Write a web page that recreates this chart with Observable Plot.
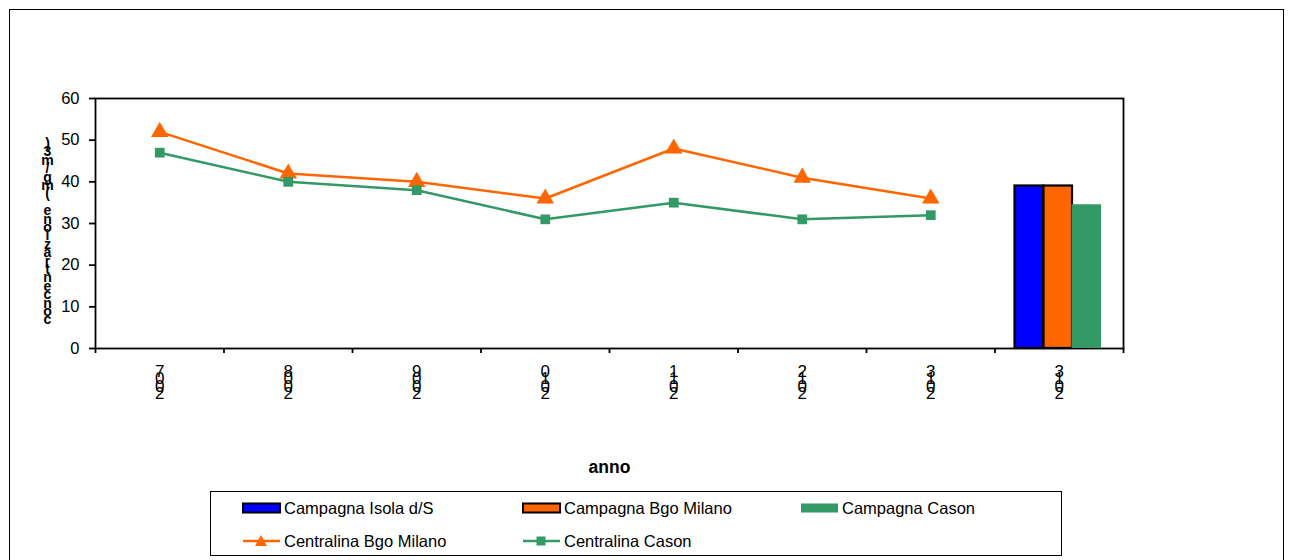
<!DOCTYPE html>
<html>
<head>
<meta charset="utf-8">
<script src="https://cdn.jsdelivr.net/npm/d3@7"></script>
<script src="https://cdn.jsdelivr.net/npm/@observablehq/plot@0.6"></script>
<style>
  html, body { margin: 0; padding: 0; background: #fff; }
  body { width: 1289px; height: 560px; position: relative; overflow: hidden; font-family: "Liberation Sans", Arial, sans-serif; }
  #outer { position: absolute; left: 9px; top: 9px; width: 1275px; height: 620px; border: 1.5px solid #000; box-sizing: border-box; }
  #chart { position: absolute; left: 0; top: 0; }
  #legend { position: absolute; left: 210px; top: 491px; width: 852px; height: 65px; border: 1.5px solid #000; box-sizing: border-box; background: #fff; }
  .item { position: absolute; display: flex; align-items: center; font-size: 16.5px; color: #000; height: 20px; white-space: nowrap; }
  .item svg { margin-right: 2px; }
</style>
</head>
<body>
<div id="outer"></div>
<div id="chart"></div>
<div id="legend"></div>
<script>
// ---- data ----
const years = ["2007", "2008", "2009", "2010", "2011", "2012", "2013", "2013"];
const lineYears = ["2007", "2008", "2009", "2010", "2011", "2012", "2013"];
const centralinaBgoMilano = [52, 42, 40, 36, 48, 41, 36];
const centralinaCason = [47, 40, 38, 31, 35, 31, 32];
const campagnaSeries = ["Campagna Isola d/S", "Campagna Bgo Milano", "Campagna Cason"];
const campagnaValues = [39, 39, 34.5];
const campagnaYear = "2013";
const lineSeries = ["Centralina Bgo Milano", "Centralina Cason"];
const yTicks = [0, 10, 20, 30, 40, 50, 60];
const xTitle = "anno";
const yTitle = "concentrazione (mg/m3)";

// ---- styles ----
const colBlue = "#0000FF", colOrange = "#FF6600", colGreen = "#339966";
const campagnaFill = [colBlue, colOrange, colGreen];
const campagnaStroke = ["#000", "#000", "none"];
const campagnaInsets = [[20, 80], [49, 51], [77, 22]];

const groupIndex = years.length - 1; // campaign group is the last slot
const lineData = lineYears.flatMap((yr, i) => [
  {series: lineSeries[0], year: yr, pos: i + 0.5, value: centralinaBgoMilano[i]},
  {series: lineSeries[1], year: yr, pos: i + 0.5, value: centralinaCason[i]}
]);
const bgo = lineData.filter(d => d.series === lineSeries[0]);
const cas = lineData.filter(d => d.series === lineSeries[1]);

const barMarks = campagnaSeries.map((s, i) => Plot.rectY(
  [{series: s, year: campagnaYear, g0: groupIndex, g1: groupIndex + 1, value: campagnaValues[i]}],
  {x1: "g0", x2: "g1", y1: 0, y2: "value", fill: campagnaFill[i],
   stroke: campagnaStroke[i], strokeWidth: 2.2,
   insetLeft: campagnaInsets[i][0], insetRight: campagnaInsets[i][1]}
));

const tickLabels = years.map((yr, i) => ({pos: i + 0.5, label: yr.split("").reverse().join("\n")}));
const yLabelStacked = yTitle.split("").reverse().join("\n");

const chart = Plot.plot({
  width: 1289,
  height: 480,
  marginLeft: 95,
  marginRight: 166,
  marginTop: 98,
  marginBottom: 132,
  style: {fontFamily: "'Liberation Sans', Arial, sans-serif", background: "transparent", color: "#000"},
  x: {type: "linear", domain: [0, years.length], axis: null},
  y: {domain: [0, 60], axis: null},
  marks: [
    Plot.frame({stroke: "#000", strokeWidth: 1.8}),
    Plot.axisY({ticks: yTicks, tickSize: 6, tickPadding: 10, fontSize: 16.5, stroke: "#000", strokeWidth: 1.8, label: null}),
    Plot.axisX({ticks: d3.range(0, years.length + 1), tickSize: 5, tickFormat: () => "", stroke: "#000", strokeWidth: 1.8, label: null}),
    Plot.text(tickLabels, {x: "pos", text: "label", frameAnchor: "bottom", lineAnchor: "top", dy: 23, fontSize: 17, lineHeight: 0.44, fill: "#000"}),
    Plot.text([xTitle], {frameAnchor: "bottom", lineAnchor: "top", dy: 112, fontSize: 17.5, fontWeight: "bold", fill: "#000"}),
    Plot.text([yLabelStacked], {frameAnchor: "left", dx: -48, dy: 10, fontSize: 14, fontWeight: "bold", lineHeight: 0.6, fill: "#000", textAnchor: "middle"}),
    Plot.line(bgo, {x: "pos", y: "value", stroke: colOrange, strokeWidth: 2.5}),
    Plot.line(cas, {x: "pos", y: "value", stroke: colGreen, strokeWidth: 2.5}),
    Plot.dot(bgo, {x: "pos", y: "value", symbol: "triangle", r: 6.5, fill: colOrange, stroke: "none"}),
    Plot.dot(cas, {x: "pos", y: "value", symbol: "square", r: 5.5, fill: colGreen, stroke: "none"}),
    ...barMarks
  ]
});
document.getElementById("chart").appendChild(chart);

// ---- legend ----
const legend = document.getElementById("legend");
function swatchRect(fill, stroke) {
  return `<svg width="40" height="12"><rect x="1" y="1.5" width="37" height="9" fill="${fill}" stroke="${stroke}" stroke-width="${stroke === "none" ? 0 : 2}"/></svg>`;
}
function swatchLine(color, sym) {
  const marker = sym === "triangle"
    ? `<path d="M19,2 L25,13 L13,13 Z" fill="${color}"/>`
    : `<rect x="14.5" y="3.5" width="9" height="9" fill="${color}"/>`;
  return `<svg width="40" height="16"><line x1="1" y1="8" x2="38" y2="8" stroke="${color}" stroke-width="2.5"/>${marker}</svg>`;
}
const legendItems = [
  {label: campagnaSeries[0], sw: swatchRect(campagnaFill[0], campagnaStroke[0]), left: 31, top: 6},
  {label: campagnaSeries[1], sw: swatchRect(campagnaFill[1], campagnaStroke[1]), left: 311, top: 6},
  {label: campagnaSeries[2], sw: swatchRect(campagnaFill[2], campagnaStroke[2]), left: 589, top: 6},
  {label: lineSeries[0], sw: swatchLine(colOrange, "triangle"), left: 31, top: 39},
  {label: lineSeries[1], sw: swatchLine(colGreen, "square"), left: 311, top: 39}
];
for (const it of legendItems) {
  const div = document.createElement("div");
  div.className = "item";
  div.style.left = it.left + "px";
  div.style.top = it.top + "px";
  div.innerHTML = it.sw + `<span>${it.label}</span>`;
  legend.appendChild(div);
}
</script>
</body>
</html>
